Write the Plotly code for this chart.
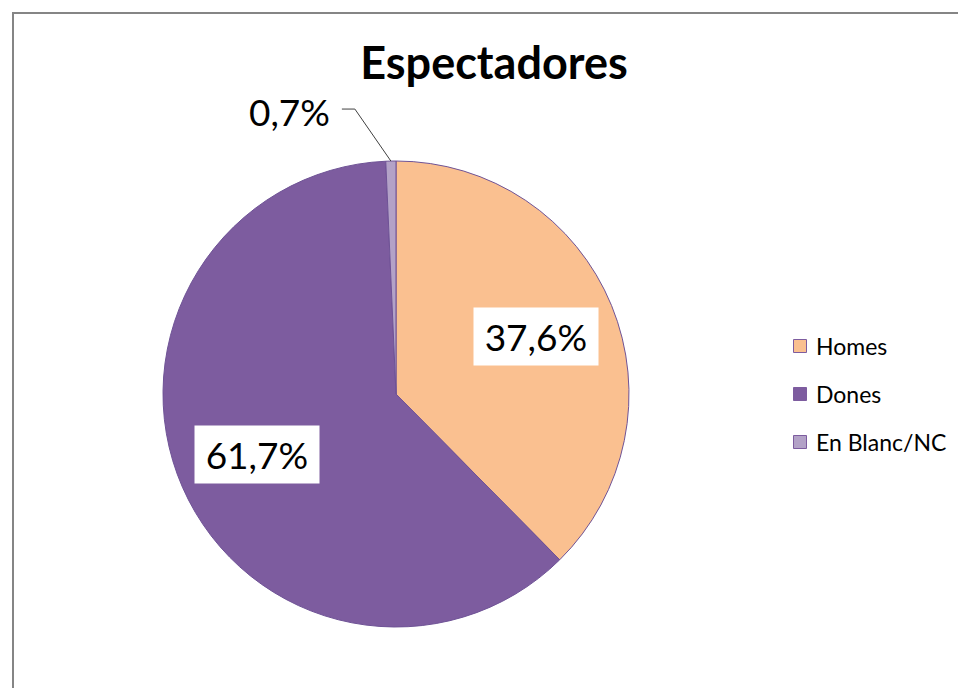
import math
import plotly.graph_objects as go

# ---- data ----
categories = ["Homes", "Dones", "En Blanc/NC"]
values = [37.6, 61.7, 0.7]
label_texts = ["37,6%", "61,7%", "0,7%"]
colors = ["#FAC090", "#7D5C9F", "#B3A2C7"]
title_text = "Espectadores"

W, H = 958, 688
FONT = "Lato"

def px(x):
    return x / W

def py(y):
    return 1 - y / H

# pie geometry (pixels)
CX, CY, R = 396, 394, 233

fig = go.Figure()
fig.add_trace(go.Pie(
    labels=categories,
    values=values,
    marker=dict(colors=colors, line=dict(color="#6F5396", width=1)),
    sort=False,
    direction="clockwise",
    rotation=0,
    textinfo="none",
    hoverinfo="label+percent",
    showlegend=False,
    domain=dict(x=[px(CX - R), px(CX + R)], y=[py(CY + R), py(CY - R)]),
))

annotations = []
shapes = []
THIN = "\u2009"

total = sum(values)
cum = 0.0
for i, (v, t) in enumerate(zip(values, label_texts)):
    mid = (cum + v / 2) / total * 2 * math.pi
    cum += v
    if v / total > 0.05:
        rr = 0.65 * R
        lx = CX + rr * math.sin(mid)
        ly = CY - rr * math.cos(mid)
        annotations.append(dict(
            x=px(lx), y=py(ly), xref="paper", yref="paper",
            text=THIN + t + THIN, showarrow=False,
            font=dict(family=FONT, size=37, color="#000000"),
            bgcolor="#FFFFFF", borderpad=6,
            xanchor="center", yanchor="middle",
        ))
    else:
        ex = CX + R * math.sin(mid)
        ey = CY - R * math.cos(mid)
        kx, ky = ex - 36, ey - 52
        hx = kx - 13
        shapes.append(dict(
            type="path", xref="paper", yref="paper",
            path=f"M {px(ex)} {py(ey)} L {px(kx)} {py(ky)} L {px(hx)} {py(ky)}",
            line=dict(color="#404040", width=1),
        ))
        annotations.append(dict(
            x=px(hx - 10), y=py(ky + 2), xref="paper", yref="paper",
            text=t, showarrow=False,
            font=dict(family=FONT, size=37, color="#000000"),
            xanchor="right", yanchor="middle",
        ))

# legend (manual, to match spacing)
LX, LY0, LDY, SQ = 800, 346, 48, 13
for i, (c, name) in enumerate(zip(colors, categories)):
    yc = LY0 + i * LDY
    shapes.append(dict(
        type="rect", xref="paper", yref="paper",
        x0=px(LX - SQ / 2), x1=px(LX + SQ / 2),
        y0=py(yc + SQ / 2), y1=py(yc - SQ / 2),
        fillcolor=c, line=dict(color="#7D5C9F", width=1),
    ))
    annotations.append(dict(
        x=px(LX + 14), y=py(yc), xref="paper", yref="paper",
        text=name, showarrow=False,
        font=dict(family=FONT, size=23, color="#000000"),
        xanchor="left", yanchor="middle",
    ))

# chart border (left and top edges)
shapes.append(dict(
    type="path", xref="paper", yref="paper",
    path=f"M {px(13)} {py(H + 30)} L {px(13)} {py(13)} L {px(W + 30)} {py(13)}",
    line=dict(color="#858585", width=2),
    layer="below",
))

fig.update_layout(
    width=W, height=H,
    margin=dict(l=0, r=0, t=0, b=0),
    paper_bgcolor="#FFFFFF",
    plot_bgcolor="#FFFFFF",
    title=dict(
        text=f"<b>{title_text}</b>",
        x=px(494), y=py(63), xref="paper", yref="paper",
        xanchor="center", yanchor="middle",
        font=dict(family=FONT, size=45, color="#000000"),
    ),
    annotations=annotations,
    shapes=shapes,
    showlegend=False,
)

fig.write_html(
    "out.html",
    config={"displayModeBar": False},
    post_script="document.body.style.margin='0';"
                "document.documentElement.style.overflow='hidden';"
                "document.body.style.overflow='hidden';",
)
